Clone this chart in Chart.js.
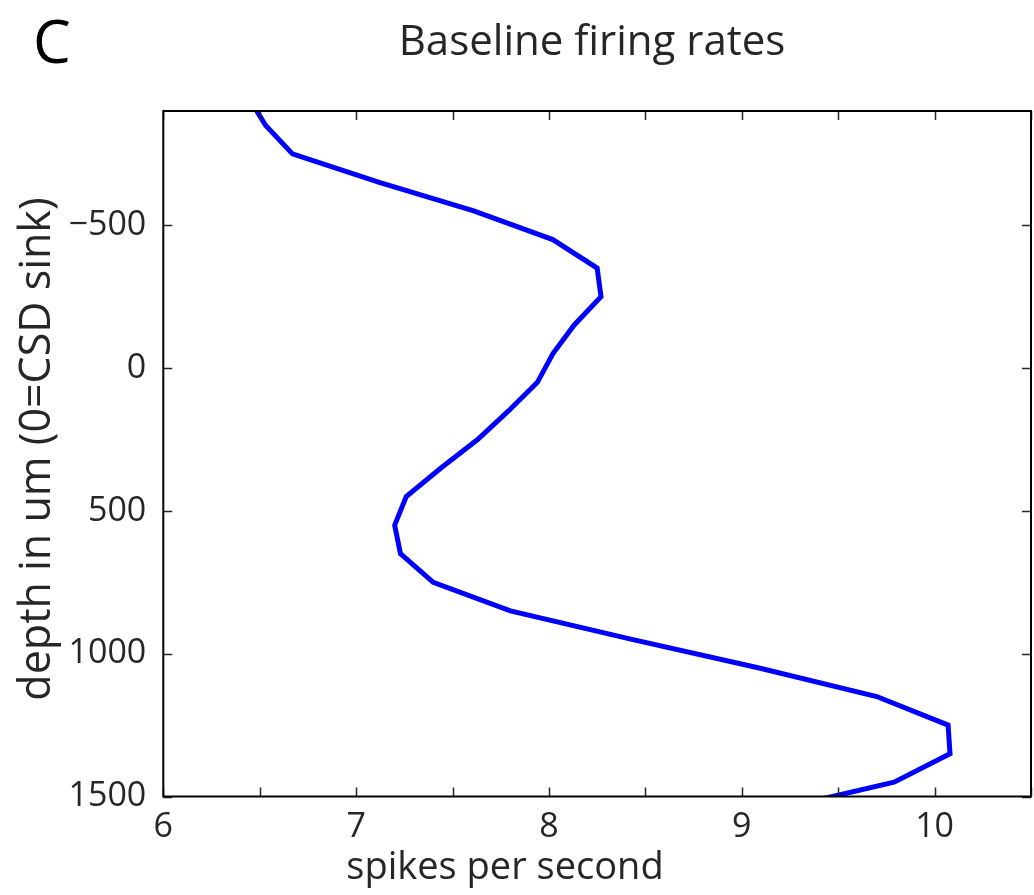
<!DOCTYPE html>
<html>
<head>
<meta charset="utf-8">
<title>Baseline firing rates</title>
<script src="https://cdn.jsdelivr.net/npm/chart.js@4.4.1/dist/chart.umd.min.js"></script>
<style>
  html, body { margin: 0; padding: 0; background: #ffffff; }
  #wrap { width: 1034px; height: 895px; position: relative; }
</style>
</head>
<body>
<div id="wrap"><canvas id="chart" width="1034" height="895"></canvas></div>
<script>
// Recording depth relative to the CSD sink (um), sampled every 100 um
const depths = [-950, -850, -750, -650, -550, -450, -350, -250, -150, -50,
                50, 150, 250, 350, 450, 550, 650, 750, 850, 950,
                1050, 1150, 1250, 1350, 1450, 1550];
// Mean baseline firing rate at each depth (spikes per second)
const rates = [6.44, 6.53, 6.67, 7.12, 7.61, 8.02, 8.25, 8.27, 8.13, 8.02,
               7.94, 7.79, 7.63, 7.44, 7.26, 7.20, 7.23, 7.40, 7.80, 8.43,
               9.09, 9.70, 10.07, 10.08, 9.79, 9.15];
const xTicks = [6, 6.5, 7, 7.5, 8, 8.5, 9, 9.5, 10, 10.5];
const yTicks = [-500, 0, 500, 1000, 1500];

const panelLabel = 'C';
const titleText = 'Baseline firing rates';
const xTitle = 'spikes per second';
const yTitle = 'depth in um (0=CSD sink)';

const FONT = '"Open Sans", "Noto Sans", sans-serif';
const TEXT = '#262626';

// Box around the axes with inward ticks on all four sides, plus titles and panel letter
const frame = {
  id: 'frame',
  afterDraw(chart) {
    const { ctx, chartArea: a, scales } = chart;
    const xs = scales.x, ys = scales.y;
    const len = 9;
    ctx.save();
    ctx.strokeStyle = '#262626';
    ctx.lineWidth = 1.5;
    ctx.beginPath();
    xTicks.forEach(v => {
      const px = Math.round(xs.getPixelForValue(v)) + 0.5;
      ctx.moveTo(px, a.bottom); ctx.lineTo(px, a.bottom - len);
      ctx.moveTo(px, a.top); ctx.lineTo(px, a.top + len);
    });
    yTicks.forEach(v => {
      const py = Math.round(ys.getPixelForValue(v)) + 0.5;
      ctx.moveTo(a.left, py); ctx.lineTo(a.left + len, py);
      ctx.moveTo(a.right, py); ctx.lineTo(a.right - len, py);
    });
    ctx.stroke();
    ctx.strokeStyle = '#000000';
    ctx.lineWidth = 2;
    ctx.strokeRect(a.left, a.top, a.right - a.left, a.bottom - a.top);

    ctx.fillStyle = TEXT;
    ctx.textBaseline = 'alphabetic';
    ctx.textAlign = 'center';
    ctx.font = '42px ' + FONT;
    ctx.fillText(titleText, 592, 55);

    ctx.font = '38px ' + FONT;
    ctx.fillText(xTitle, 505, 879);

    ctx.save();
    ctx.translate(50, 449);
    ctx.rotate(-Math.PI / 2);
    ctx.font = '43px ' + FONT;
    ctx.fillText(yTitle, 0, 0);
    ctx.restore();

    ctx.fillStyle = '#000000';
    ctx.textAlign = 'left';
    ctx.font = '60px ' + FONT;
    ctx.fillText(panelLabel, 33, 63);
    ctx.restore();
  }
};

new Chart(document.getElementById('chart'), {
  type: 'scatter',
  data: {
    datasets: [{
      data: depths.map((d, i) => ({ x: rates[i], y: d })),
      showLine: true,
      borderColor: '#0000ff',
      backgroundColor: '#0000ff',
      borderWidth: 5,
      borderJoinStyle: 'miter',
      pointRadius: 0,
      pointHoverRadius: 0,
      tension: 0,
      clip: 0
    }]
  },
  options: {
    responsive: false,
    animation: false,
    events: [],
    layout: { padding: { top: 111, right: 3, left: 0, bottom: 0 } },
    plugins: { legend: { display: false }, tooltip: { enabled: false }, title: { display: false } },
    scales: {
      x: {
        type: 'linear',
        min: 6, max: 10.5,
        afterBuildTicks(s) { s.ticks = xTicks.map(v => ({ value: v })); },
        afterFit(s) { s.height = 98.5; s.paddingLeft = 0; s.paddingRight = 0; },
        grid: { display: false, drawTicks: false },
        border: { display: false },
        ticks: {
          autoSkip: false,
          maxRotation: 0,
          padding: 10,
          color: TEXT,
          font: { family: FONT, size: 34 },
          callback: v => (Number.isInteger(v) ? String(v) : '')
        }
      },
      y: {
        type: 'linear',
        reverse: true,
        min: -900, max: 1500,
        afterBuildTicks(s) { s.ticks = yTicks.map(v => ({ value: v })); },
        afterFit(s) { s.width = 163.3; s.paddingTop = 0; s.paddingBottom = 0; },
        grid: { display: false, drawTicks: false },
        border: { display: false },
        ticks: {
          autoSkip: false,
          padding: 17,
          color: TEXT,
          font: { family: FONT, size: 34 },
          callback: v => (v < 0 ? '\u2212' + Math.abs(v) : String(v))
        }
      }
    }
  },
  plugins: [frame]
});
</script>
</body>
</html>
